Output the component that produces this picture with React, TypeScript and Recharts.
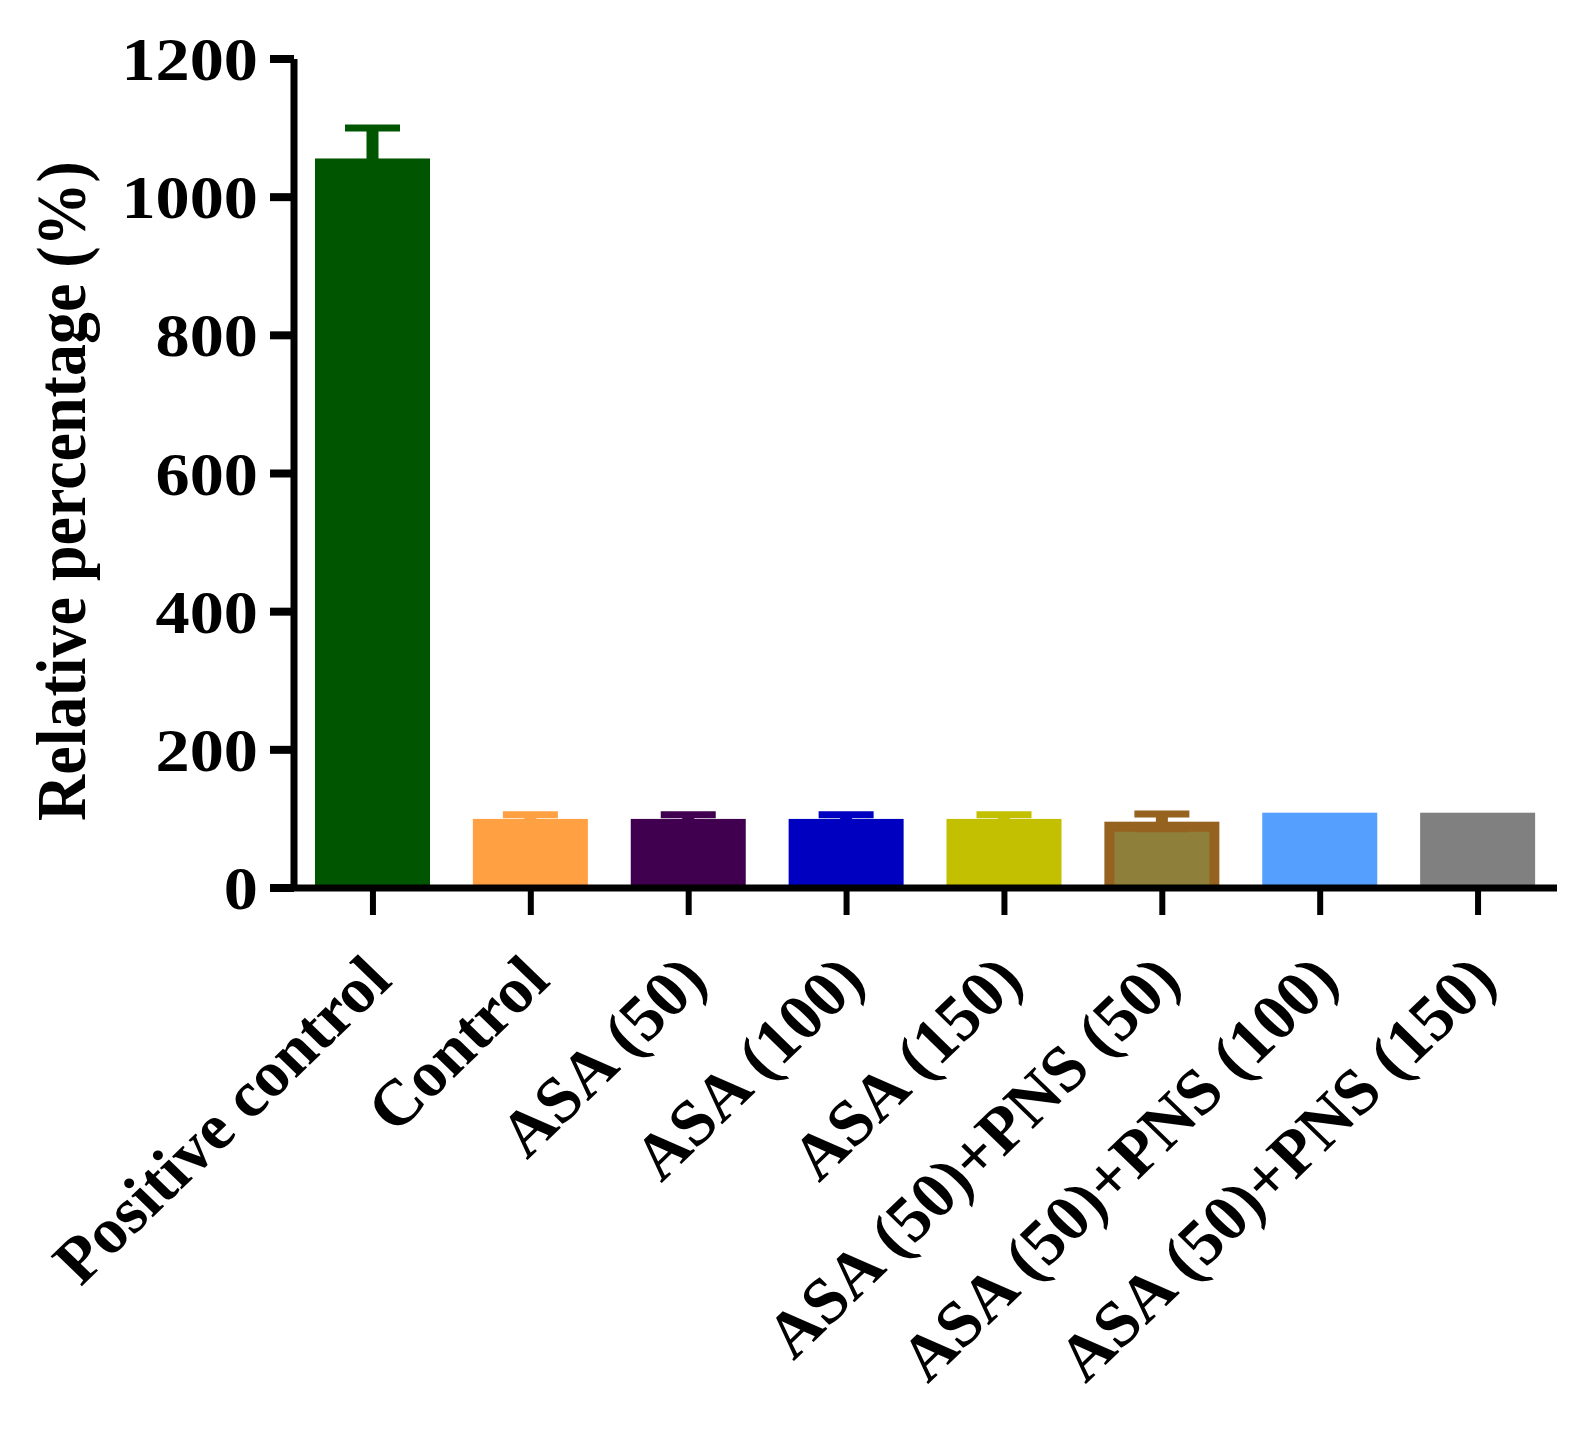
import { BarChart, Bar, XAxis, YAxis, Cell } from "recharts";

// Relative percentage (%) per treatment group, mean ± SEM
const categories = [
  "Positive control",
  "Control",
  "ASA (50)",
  "ASA (100)",
  "ASA (150)",
  "ASA (50)+PNS (50)",
  "ASA (50)+PNS (100)",
  "ASA (50)+PNS (150)",
];
const means = [1056, 100, 100, 100, 100, 96, 109, 109];
const errors = [44, 6, 6, 6, 6, 11, 0, 0];
const yTicks = [0, 200, 400, 600, 800, 1000, 1200];

const FILLS = ["#005500", "#FFA143", "#40004F", "#0000C0", "#C2C000", "#8E803A", "#55A0FF", "#808080"];
const EDGES = ["#005500", "#FFA143", "#40004F", "#0000C0", "#C2C000", "#956220", "#55A0FF", "#808080"];

const FONT = "'Liberation Serif', 'Times New Roman', serif";

const data = categories.map((name, i) => ({
  name,
  value: means[i],
  err: errors[i],
  edge: EDGES[i],
}));

function BarWithError(props: any) {
  const { x, y, width, height, fill, payload } = props;
  if (!height) return null;
  const perUnit = height / payload.value;
  const e = payload.err * perUnit;
  const cx = x + width / 2;
  const border = payload.edge !== fill ? 10 : 0;
  const capW = 55;
  return (
    <g>
      <rect x={x} y={y} width={width} height={height} fill={payload.edge} />
      {border > 0 && (
        <rect x={x + border} y={y + border} width={width - 2 * border} height={height - border} fill={fill} />
      )}
      {payload.err > 0 && (
        <g stroke={payload.edge}>
          <line x1={cx} x2={cx} y1={y - e} y2={y + e} strokeWidth={12} />
          <line x1={cx - capW / 2} x2={cx + capW / 2} y1={y - e} y2={y - e} strokeWidth={7} />
          <line x1={cx - capW / 2} x2={cx + capW / 2} y1={y + e} y2={y + e} strokeWidth={6} />
        </g>
      )}
    </g>
  );
}

function YTick({ x, y, payload }: any) {
  return (
    <text
      transform={`translate(${x - 10},${y + 21}) scale(1.12,1)`}
      textAnchor="end"
      fontFamily={FONT}
      fontWeight="bold"
      fontSize={61}
      fill="#000"
    >
      {payload.value}
    </text>
  );
}

function XTick({ x, y, payload }: any) {
  return (
    <text
      transform={`translate(${x + 21},${y + 66}) scale(1.03,1) rotate(-45)`}
      textAnchor="end"
      fontFamily={FONT}
      fontWeight="bold"
      fontSize={65}
      fill="#000"
    >
      {payload.value}
    </text>
  );
}

function YLabel() {
  return (
    <text
      transform={`translate(85,491) scale(1.1,1) rotate(-90)`}
      textAnchor="middle"
      fontFamily={FONT}
      fontWeight="bold"
      fontSize={64}
      fill="#000"
    >
      Relative percentage (%)
    </text>
  );
}

export default function App() {
  return (
    <div style={{ position: "absolute", left: 0, top: 0, background: "#fff" }}>
      <BarChart
        width={1590}
        height={1431}
        data={data}
        margin={{ top: 59, right: 33, left: 0, bottom: 0 }}
      >
        <XAxis
          dataKey="name"
          interval={0}
          height={543}
          tickSize={27}
          axisLine={{ stroke: "#000", strokeWidth: 7 }}
          tickLine={{ stroke: "#000", strokeWidth: 6 }}
          tick={<XTick />}
        />
        <YAxis
          width={294}
          domain={[0, 1200]}
          ticks={yTicks}
          tickSize={24}
          axisLine={{ stroke: "#000", strokeWidth: 7 }}
          tickLine={{ stroke: "#000", strokeWidth: 8 }}
          tick={<YTick />}
          label={<YLabel />}
        />
        <Bar dataKey="value" barSize={115} isAnimationActive={false} shape={<BarWithError />}>
          {data.map((_, i) => (
            <Cell key={i} fill={FILLS[i]} />
          ))}
        </Bar>
      </BarChart>
    </div>
  );
}
